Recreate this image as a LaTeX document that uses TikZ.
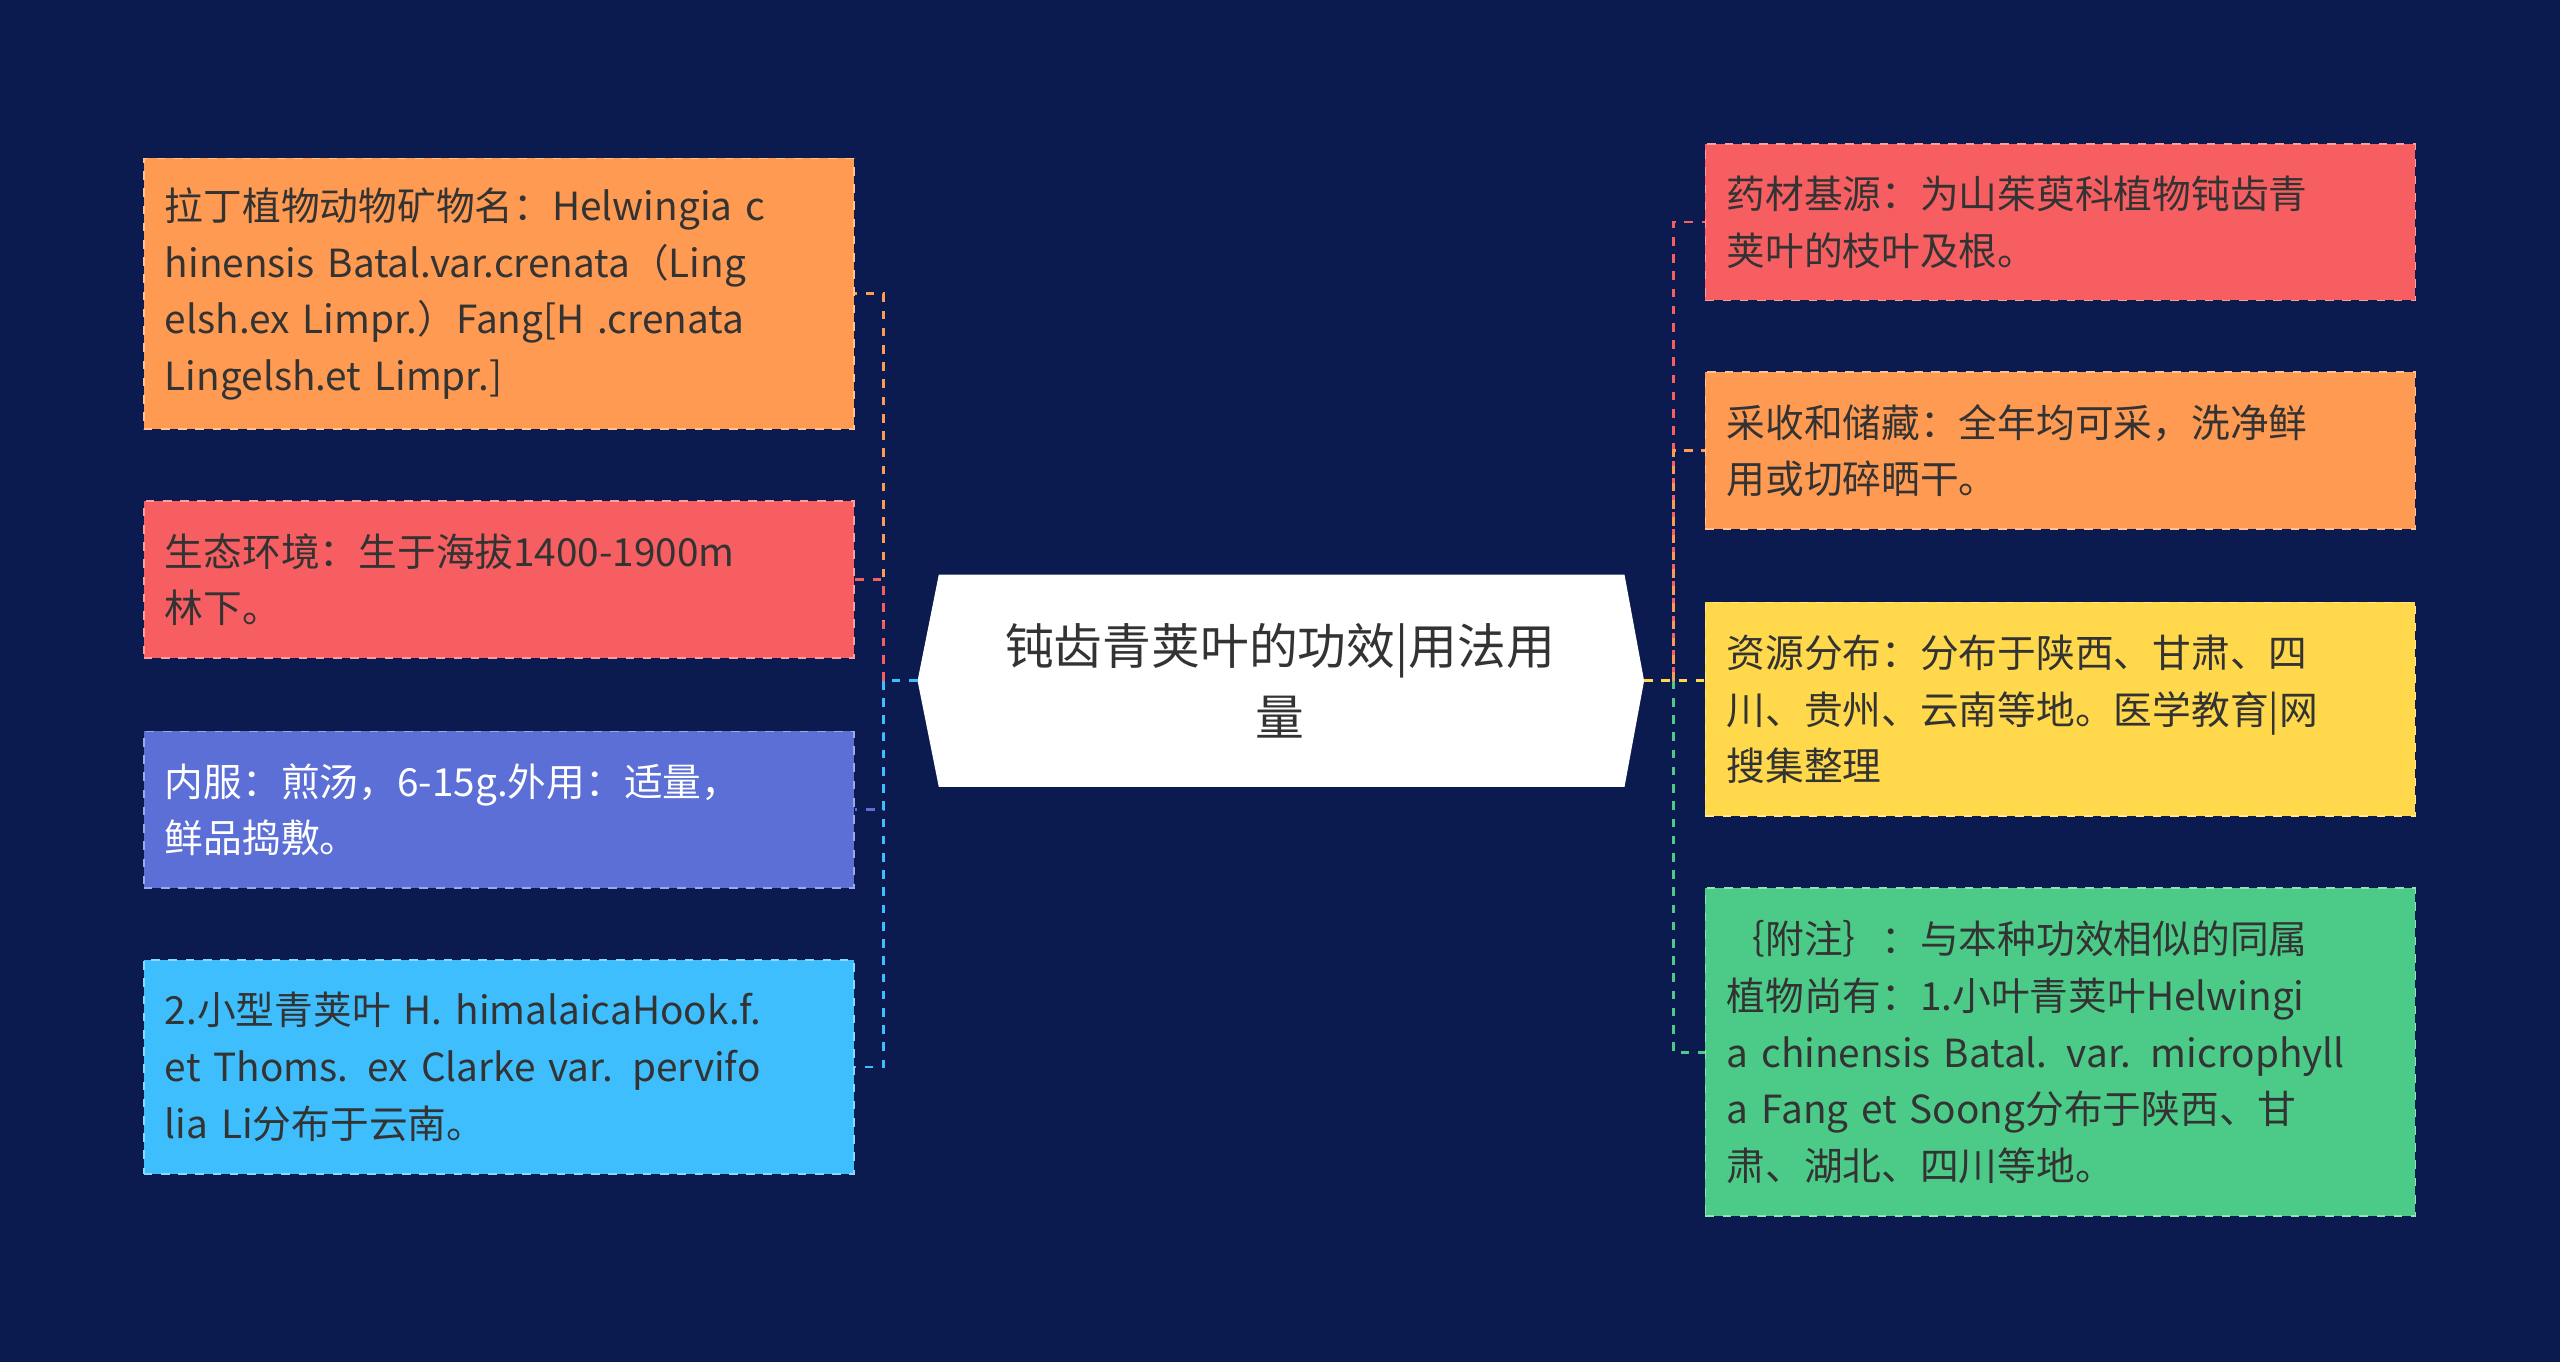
\documentclass[tikz,border=0pt]{standalone}
\usepackage{fontspec}
\setmainfont{Noto Sans CJK SC}
\definecolor{bg}{HTML}{0B1A4F}
\definecolor{corange}{HTML}{FF9A52}
\definecolor{cred}{HTML}{F65E61}
\definecolor{cblue}{HTML}{5B6FD6}
\definecolor{ccyan}{HTML}{3EBEFD}
\definecolor{cyellow}{HTML}{FFD84B}
\definecolor{cgreen}{HTML}{4CCB88}
\definecolor{ink}{HTML}{333333}
\tikzset{
  leaf/.style={fill=#1, draw=#1!60!white, dashed, line width=0.6pt,
    minimum width=8.7cm, text width=8.18cm, inner xsep=0.26cm,
    align=left, font=\fontsize{13.5}{19.8}\selectfont, text=ink},
  link/.style={draw=#1, dashed, line width=1pt},
}
\begin{document}
\begin{tikzpicture}[x=0.02cm, y=-0.02cm]
\fill[bg] (0,0) rectangle (1568,834);
% centre
\node (c) at (784,417) {};
\fill[white] (562,417) -- (575,352) -- (995,352) -- (1007,417) -- (995,482) -- (575,482) -- cycle;
\node[align=center, font=\fontsize{17}{25}\selectfont, text=ink] (title) at (784,417) {钝齿青荚叶的功效|用法用\\量};
% left
\node[leaf=corange, minimum height=3.32cm] (l1) at (305.5,180) {拉丁植物动物矿物名：Helwingia c\\hinensis Batal.var.crenata（Ling\\elsh.ex Limpr.）Fang[H .crenata\\Lingelsh.et Limpr.]};
\node[leaf=cred, minimum height=1.92cm] (l2) at (305.5,355) {生态环境：生于海拔1400-1900m\\林下。};
\node[leaf=cblue, minimum height=1.92cm, text=white] (l3) at (305.5,496) {内服：煎汤，6-15g.外用：适量，\\鲜品捣敷。};
\node[leaf=ccyan, minimum height=2.62cm] (l4) at (305.5,653.5) {2.小型青荚叶 H. himalaicaHook.f.\\ et Thoms. ex Clarke var. pervifo\\lia Li分布于云南。};
% right
\node[leaf=cred, minimum height=1.92cm] (r1) at (1262,136) {药材基源：为山茱萸科植物钝齿青\\荚叶的枝叶及根。};
\node[leaf=corange, minimum height=1.92cm] (r2) at (1262,276) {采收和储藏：全年均可采，洗净鲜\\用或切碎晒干。};
\node[leaf=cyellow, minimum height=2.62cm] (r3) at (1262,434.5) {资源分布：分布于陕西、甘肃、四\\川、贵州、云南等地。医学教育|网\\搜集整理};
\node[leaf=cgreen, minimum height=4.02cm] (r4) at (1262,644.5) {｛附注｝：与本种功效相似的同属\\植物尚有：1.小叶青荚叶Helwingi\\a chinensis Batal. var. microphyll\\a Fang et Soong分布于陕西、甘\\肃、湖北、四川等地。};
% connectors
\coordinate (lj) at (541,417);
\coordinate (rj) at (1025,417);
\draw[link=corange] (562,417) -- (lj) |- (l1.east);
\draw[link=cred] (lj) |- (l2.east);
\draw[link=cblue] (lj) |- (l3.east);
\draw[link=ccyan] (562,417) -- (lj) |- (l4.east);
\draw[link=cred] (1007,417) -- (rj) |- (r1.west);
\draw[link=corange] (rj) |- (r2.west);
\draw[link=cyellow] (1007,417) -- (r3.west |- rj);
\draw[link=cgreen] (rj) |- (r4.west);
\end{tikzpicture}
\end{document}
